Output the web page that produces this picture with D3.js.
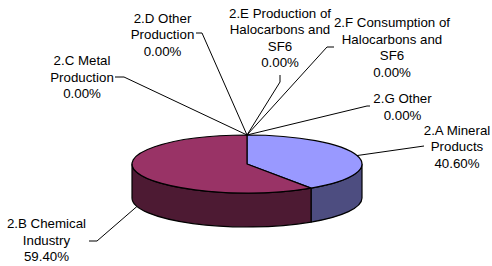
<!DOCTYPE html>
<html>
<head>
<meta charset="utf-8">
<script src="https://cdn.jsdelivr.net/npm/d3@7"></script>
<style>
  body { margin: 0; background: #fff; }
  text { font-family: Arial, "Liberation Sans", sans-serif; font-size: 13.3px; fill: #000; }
</style>
</head>
<body>
<div id="chart"></div>
<script>
// categories (line breaks as in the chart labels)
var categories = ["2.A Mineral\nProducts", "2.B Chemical\nIndustry", "2.C Metal\nProduction",
                  "2.D Other\nProduction", "2.E Production of\nHalocarbons and\nSF6",
                  "2.F Consumption of\nHalocarbons and\nSF6", "2.G Other"];
var values = [40.6, 59.4, 0, 0, 0, 0, 0];
var topColors = ["#9999FF", "#993366", "#FFFFCC", "#CCFFFF", "#660066", "#FF8080", "#0066CC"];
var sideColors = ["#4D4D80", "#4D1A33", "#808066", "#668080", "#330033", "#804040", "#003366"];

// label layout: text centre x, first baseline y, leader hook points
var labelLayout = [
  {x: 457, y: 134.5, hook: [[424, 146]]},
  {x: 46.5, y: 228, hook: [[89, 241], [97, 241]]},
  {x: 82, y: 65, hook: [[115, 77], [124, 77]]},
  {x: 162.5, y: 22.5, hook: [[196, 33], [202, 33]]},
  {x: 280, y: 17.5, hook: [[280, 75], [280, 82]]},
  {x: 392, y: 27, hook: [[334, 47], [327, 47]]},
  {x: 402.5, y: 103, hook: [[370, 106], [367, 106]]}
];

var width = 492, height = 266;
var cx = 247, cy = 164, rx = 115, ry = 29, depth = 34, lineH = 16.6;

var svg = d3.select("#chart").append("svg")
  .attr("width", width)
  .attr("height", height);

var total = d3.sum(values);
var pct = d3.format(".2%");

var pie = d3.pie().sort(null).value(function(d) { return d; });
var arcs = pie(values);

// point on the top ellipse (angle clockwise from 12 o'clock)
function pt(a, dy) {
  return [cx + rx * Math.sin(a), cy - ry * Math.cos(a) + (dy || 0)];
}

// side walls: only the front half (pi/2 .. 3pi/2) is visible
arcs.forEach(function(d, i) {
  var a0 = Math.max(d.startAngle, Math.PI / 2),
      a1 = Math.min(d.endAngle, Math.PI * 1.5);
  if (a1 <= a0) return;
  var p0 = pt(a0), p1 = pt(a1), q1 = pt(a1, depth), q0 = pt(a0, depth);
  var large = (a1 - a0) > Math.PI ? 1 : 0;
  var path = "M" + p0 + " A" + rx + "," + ry + " 0 " + large + " 1 " + p1 +
    " L" + q1 + " A" + rx + "," + ry + " 0 " + large + " 0 " + q0 + " Z";
  svg.append("path")
    .attr("d", path)
    .attr("fill", sideColors[i])
    .attr("stroke", "#000")
    .attr("stroke-width", 1.2)
    .attr("stroke-linejoin", "round");
});

// top faces
arcs.forEach(function(d, i) {
  if (d.endAngle - d.startAngle <= 0) return;
  var p0 = pt(d.startAngle), p1 = pt(d.endAngle);
  var large = (d.endAngle - d.startAngle) > Math.PI ? 1 : 0;
  var path = "M" + cx + "," + cy + " L" + p0 + " A" + rx + "," + ry + " 0 " + large + " 1 " + p1 + " Z";
  svg.append("path")
    .attr("d", path)
    .attr("fill", topColors[i])
    .attr("stroke", "#000")
    .attr("stroke-width", 1.2)
    .attr("stroke-linejoin", "round");
});

// leader lines and labels
arcs.forEach(function(d, i) {
  var lay = labelLayout[i];
  var mid = (d.startAngle + d.endAngle) / 2;
  // labels below the pie point to the bottom rim
  var anchor = lay.y > cy + ry ? pt(mid, depth) : pt(mid);
  var pts = lay.hook.concat([anchor]);
  svg.append("path")
    .attr("d", d3.line()(pts))
    .attr("fill", "none")
    .attr("stroke", "#000")
    .attr("stroke-width", 1);

  var lines = categories[i].split("\n").concat([pct(d.value / total)]);
  var t = svg.append("text")
    .attr("text-anchor", "middle");
  lines.forEach(function(s, k) {
    t.append("tspan")
      .attr("x", lay.x)
      .attr("y", lay.y + k * lineH)
      .text(s);
  });
});
</script>
</body>
</html>
